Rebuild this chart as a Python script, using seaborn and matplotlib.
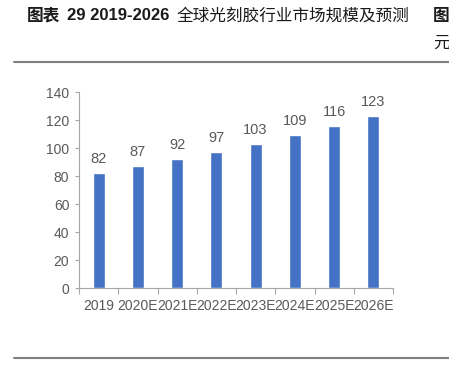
import matplotlib
matplotlib.use("Agg")
import matplotlib.pyplot as plt
import seaborn as sns
import pandas as pd
from matplotlib.lines import Line2D

# 数据
years = ["2019", "2020E", "2021E", "2022E", "2023E", "2024E", "2025E", "2026E"]
market_size = [82, 87, 92, 97, 103, 109, 116, 123]
y_ticks = [0, 20, 40, 60, 80, 100, 120, 140]

sns.set_style("white")
plt.rcParams['font.family'] = ['Liberation Sans', 'Noto Sans CJK SC', 'DejaVu Sans']
cjk = ['Noto Sans CJK SC', 'DejaVu Sans']

df = pd.DataFrame({"year": years, "size": market_size})

fig = plt.figure(figsize=(4.49, 3.73), dpi=100)
ax = fig.add_axes([79 / 449, 1 - 288 / 373, 314 / 449, 196 / 373])

sns.barplot(data=df, x="year", y="size", color="#4472C4", width=0.3,
            saturation=1, ax=ax)

grey = "#595959"
for i, v in enumerate(market_size):
    ax.text(i, v + 5, str(v), ha="center", va="bottom", fontsize=10.5, color=grey)

ax.set_xlim(-0.5, len(years) - 0.5)
ax.set_ylim(0, 140)
ax.set_yticks(y_ticks)
ax.set_xlabel("")
ax.set_ylabel("")

# 刻度线放在类别边界
ax.set_xticks(range(len(years)))
ax.set_xticklabels(years)
ax.set_xticks([i - 0.5 for i in range(len(years) + 1)], minor=True)
ax.tick_params(axis="x", which="major", length=0, pad=8, labelsize=10, labelcolor=grey)
ax.tick_params(axis="x", which="minor", length=4, width=0.8, color="#A6A6A6", direction="out", bottom=True)
ax.tick_params(axis="y", length=3, width=0.8, color="#A6A6A6", direction="out", left=True,
               labelsize=10, labelcolor=grey, pad=4)

for s in ["top", "right"]:
    ax.spines[s].set_visible(False)
for s in ["left", "bottom"]:
    ax.spines[s].set_color("#A6A6A6")
    ax.spines[s].set_linewidth(0.8)

# 标题与分隔线
ty = 1 - 16 / 373
fig.text(27 / 449, ty, "图表", fontsize=12, fontweight="bold",
         va="center", ha="left", color="#1a1a1a", family=cjk)
fig.text(67 / 449, ty, "29 2019-2026", fontsize=12, fontweight="bold",
         va="center", ha="left", color="#1a1a1a")
fig.text(177 / 449, ty, "全球光刻胶行业市场规模及预测", fontsize=12,
         va="center", ha="left", color="#1a1a1a", family=cjk)
fig.text(433 / 449, ty, "图", fontsize=12, fontweight="bold",
         va="center", ha="left", color="#1a1a1a", family=cjk)
fig.text(433 / 449, 1 - 43 / 373, "元", fontsize=12,
         va="center", ha="left", color="#1a1a1a", family=cjk)

fig.add_artist(Line2D([14 / 449, 1], [1 - 62 / 373] * 2, color="#808080", lw=1.5))
fig.add_artist(Line2D([14 / 449, 1], [1 - 358 / 373] * 2, color="#808080", lw=1.5))

fig.savefig("out.png", dpi=100)
